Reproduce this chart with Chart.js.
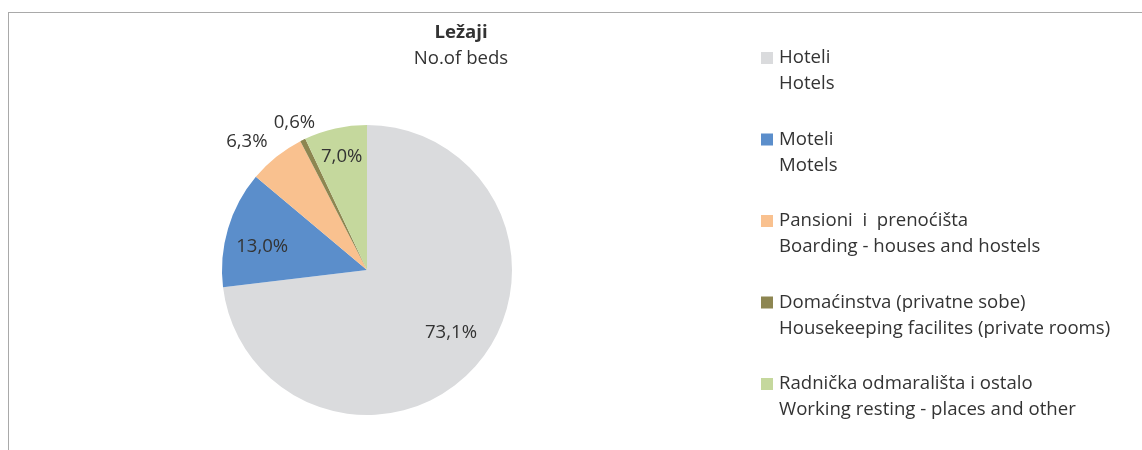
<!DOCTYPE html>
<html>
<head>
<meta charset="utf-8">
<script src="https://cdn.jsdelivr.net/npm/chart.js@4.4.1/dist/chart.umd.min.js"></script>
<style>
  html, body { margin: 0; padding: 0; background: #ffffff; }
  #wrap { position: relative; width: 1142px; height: 450px; }
  #frame { position: absolute; left: 8px; top: 12px; right: -10px; bottom: -10px;
           border-left: 1.5px solid #A9A9A9; border-top: 1.5px solid #A9A9A9; pointer-events: none; }
  canvas { position: absolute; left: 0; top: 0; }
</style>
</head>
<body>
<div id="wrap">
  <div id="frame"></div>
  <canvas id="c" width="1142" height="450"></canvas>
</div>
<script>
// ---- data ----
const titleText = "Ležaji";
const subtitleText = "No.of beds";
const categoriesLocal = ["Hoteli", "Moteli", "Pansioni  i  prenoćišta", "Domaćinstva (privatne sobe)", "Radnička odmarališta i ostalo"];
const categoriesEnglish = ["Hotels", "Motels", "Boarding - houses and hostels", "Housekeeping facilites (private rooms)", "Working resting - places and other"];
const shares = [73.1, 13.0, 6.3, 0.6, 7.0];

// ---- style ----
const sliceColors = ["#DADBDD", "#5B8ECB", "#F9C18F", "#8D8651", "#C5D89D"];
const labelRadiusFactor = [0.724, 0.74, 1.21, 1.13, 0.80];
const labelAngleShiftDeg = [-4.7, -4.2, -4.5, 0, 0];
const FONT = "'Open Sans', Lato, sans-serif";
const FS = "18.6px ";
const TEXT = "#333333";

const pctLabels = {
  id: 'pctLabels',
  afterDatasetsDraw(chart) {
    const ctx = chart.ctx;
    const meta = chart.getDatasetMeta(0);
    ctx.save();
    ctx.font = FS + FONT;
    ctx.fillStyle = TEXT;
    ctx.textAlign = "center";
    ctx.textBaseline = "middle";
    meta.data.forEach((arc, i) => {
      const p = arc.getProps(['x', 'y', 'startAngle', 'endAngle', 'outerRadius'], true);
      const mid = (p.startAngle + p.endAngle) / 2 + labelAngleShiftDeg[i] * Math.PI / 180;
      const r = p.outerRadius * labelRadiusFactor[i];
      const x = p.x + Math.cos(mid) * r;
      const y = p.y + Math.sin(mid) * r;
      ctx.fillText(shares[i].toFixed(1).replace('.', ',') + '%', x, y);
    });
    ctx.restore();
  }
};

const sideLegend = {
  id: 'sideLegend',
  afterDraw(chart) {
    const ctx = chart.ctx;
    ctx.save();
    ctx.textBaseline = "middle";
    // title
    ctx.textAlign = "center";
    ctx.fillStyle = TEXT;
    ctx.font = "bold " + FS + FONT;
    ctx.fillText(titleText, 461, 33);
    ctx.font = FS + FONT;
    ctx.fillText(subtitleText, 461, 59);
    // legend
    ctx.textAlign = "left";
    const x0 = 761, tx = 779, y0 = 58, step = 81.5, lineGap = 26;
    categoriesLocal.forEach((lab, i) => {
      const y = y0 + i * step;
      ctx.fillStyle = sliceColors[i];
      ctx.fillRect(x0, y - 6, 12, 12);
      ctx.fillStyle = TEXT;
      ctx.font = FS + FONT;
      ctx.fillText(lab, tx, y);
      ctx.fillText(categoriesEnglish[i], tx, y + lineGap);
    });
    ctx.restore();
  }
};

new Chart(document.getElementById('c'), {
  type: 'pie',
  data: {
    labels: categoriesLocal,
    datasets: [{
      data: shares,
      backgroundColor: sliceColors,
      borderWidth: 0,
      hoverOffset: 0,
      offset: 0
    }]
  },
  options: {
    responsive: false,
    animation: false,
    events: [],
    radius: 145,
    layout: { padding: { left: 222, right: 630, top: 125, bottom: 35 } },
    plugins: {
      legend: { display: false },
      title: { display: false },
      tooltip: { enabled: false }
    }
  },
  plugins: [pctLabels, sideLegend]
});
</script>
</body>
</html>
